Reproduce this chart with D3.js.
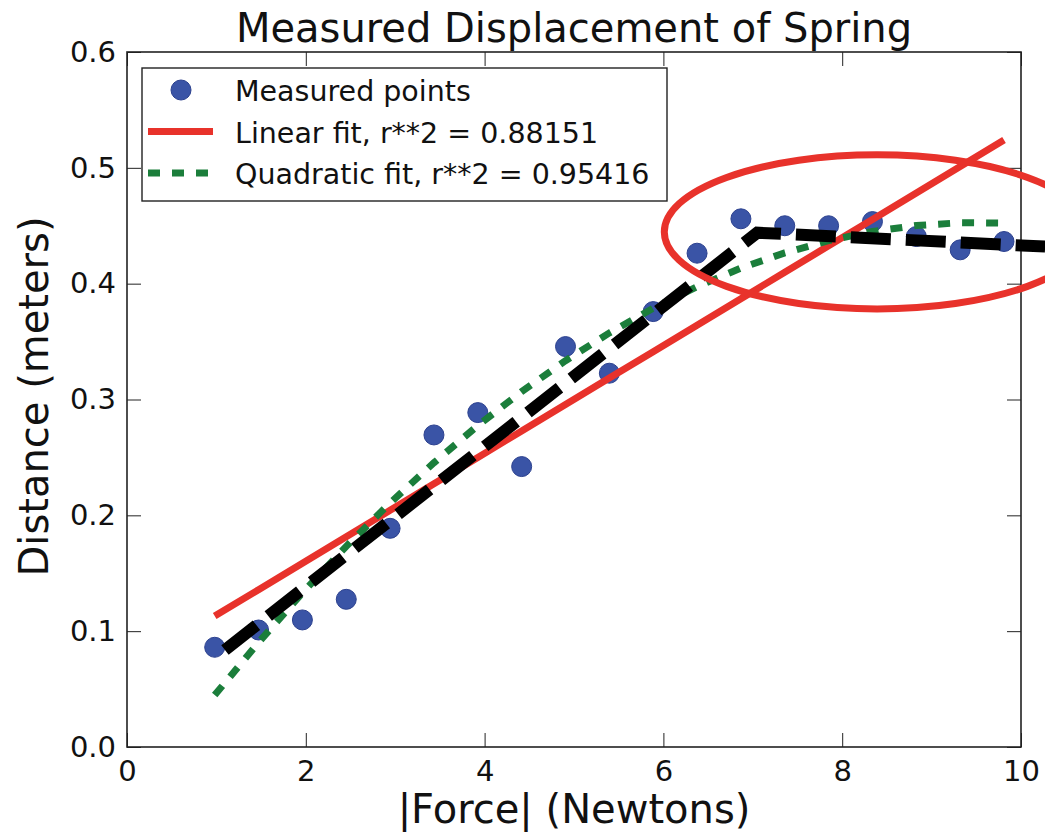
<!DOCTYPE html>
<html>
<head>
<meta charset="utf-8">
<title>Measured Displacement of Spring</title>
<script src="https://cdn.jsdelivr.net/npm/d3@7"></script>
<style>
    html, body { margin: 0; padding: 0; background: #fff; }
    svg { display: block; font-family: "DejaVu Sans", sans-serif; }
    svg text { font-family: "DejaVu Sans", sans-serif; }
</style>
</head>
<body>
<svg id="chart" width="1045" height="832"></svg>
<script>
/*jslint browser: true*/
/*global d3 */
'use strict';

var forces = [0.981, 1.4715, 1.962, 2.4525, 2.943, 3.4335, 3.924, 4.4145, 4.905, 5.3955,
    5.886, 6.3765, 6.867, 7.3575, 7.848, 8.3385, 8.829, 9.3195, 9.81];
var distances = [0.0861, 0.101, 0.1097, 0.1275, 0.1888, 0.2694, 0.2887, 0.2421, 0.3457, 0.3227,
    0.3759, 0.4263, 0.4560, 0.4500, 0.4500, 0.4536, 0.4407, 0.4292, 0.4364];
var linearFit = [0.113, 0.1358, 0.1587, 0.1815, 0.2043, 0.2272, 0.2500, 0.2728, 0.2957, 0.3185,
    0.3413, 0.3642, 0.3870, 0.4098, 0.4327, 0.4555, 0.4783, 0.5012, 0.5240];
var quadraticFit = [0.0448, 0.0903, 0.1331, 0.1732, 0.2107, 0.2454, 0.2775, 0.3068, 0.3335, 0.3575,
    0.3788, 0.3974, 0.4134, 0.4266, 0.4371, 0.4450, 0.4502, 0.4526, 0.4524];

var xTicks = [0, 2, 4, 6, 8, 10];
var yTicks = [0, 0.1, 0.2, 0.3, 0.4, 0.5, 0.6];
var legendLabels = ['Measured points', 'Linear fit, r**2 = 0.88151', 'Quadratic fit, r**2 = 0.95416'];

// hand drawn marks on top of the figure (data units)
var markerLine = [[1.096, 0.0838], [7.05, 0.444], [10.27, 0.432]];
var ringCenter = [8.39, 0.4447];
var ringRadius = [2.38, 0.0665];

var colors = { dot: '#3a54a6', dotEdge: '#2c418f', linear: '#e8322b', quad: '#1b7e3b', ink: '#222' };

function drawChart() {
    var svg = d3.select('#chart'),
        left = 127, right = 1021, top = 52, bottom = 747,
        x = d3.scaleLinear().domain([0, 10]).range([left, right]),
        y = d3.scaleLinear().domain([0, 0.6]).range([bottom, top]),
        tick = 14,
        line = d3.line().x(function (d) { return x(d[0]); }).y(function (d) { return y(d[1]); }),
        plot, gx, legend, rows;

    function pairs(vals) {
        return forces.map(function (f, i) { return [f, vals[i]]; });
    }

    // ticks, mirrored on every side and pointing inward
    gx = svg.append('g').attr('transform', 'translate(0,' + bottom + ')')
        .call(d3.axisBottom(x).tickValues(xTicks).tickSize(-tick).tickPadding(13).tickFormat(d3.format('d')));
    svg.append('g').attr('transform', 'translate(0,' + top + ')')
        .call(d3.axisTop(x).tickValues(xTicks).tickSize(-tick).tickFormat(''));
    svg.append('g').attr('transform', 'translate(' + left + ',0)')
        .call(d3.axisLeft(y).tickValues(yTicks).tickSize(-tick).tickPadding(11).tickFormat(d3.format('.1f')));
    svg.append('g').attr('transform', 'translate(' + right + ',0)')
        .call(d3.axisRight(y).tickValues(yTicks).tickSize(-tick).tickFormat(''));

    svg.selectAll('.domain').remove();
    svg.selectAll('.tick line').attr('stroke', colors.ink).attr('stroke-width', 1);
    svg.selectAll('.tick text').attr('fill', '#111').style('font-size', '29px');
    gx.selectAll('.tick text').attr('dy', '0.71em');

    plot = svg.append('g');

    plot.selectAll('circle.pt')
        .data(pairs(distances))
        .enter().append('circle')
        .attr('class', 'pt')
        .attr('cx', function (d) { return x(d[0]); })
        .attr('cy', function (d) { return y(d[1]); })
        .attr('r', 10)
        .attr('fill', colors.dot)
        .attr('stroke', colors.dotEdge)
        .attr('stroke-width', 1);

    plot.append('path').datum(pairs(linearFit))
        .attr('d', line).attr('fill', 'none')
        .attr('stroke', colors.linear).attr('stroke-width', 7);

    plot.append('path').datum(pairs(quadraticFit))
        .attr('d', line).attr('fill', 'none')
        .attr('stroke', colors.quad).attr('stroke-width', 7)
        .attr('stroke-dasharray', '12,12');

    // frame
    svg.append('rect')
        .attr('x', left).attr('y', top)
        .attr('width', right - left).attr('height', bottom - top)
        .attr('fill', 'none').attr('stroke', colors.ink).attr('stroke-width', 1.6);

    // legend
    legend = svg.append('g');
    legend.append('rect')
        .attr('x', 142).attr('y', 68).attr('width', 525).attr('height', 133)
        .attr('fill', '#fff').attr('stroke', colors.ink).attr('stroke-width', 1.4);
    rows = legend.selectAll('g.row').data(legendLabels).enter().append('g')
        .attr('class', 'row')
        .attr('transform', function (d, i) { return 'translate(0,' + (90 + i * 41.5) + ')'; });
    rows.append('text')
        .attr('x', 235).attr('y', 11)
        .style('font-size', '28.5px').attr('fill', '#111')
        .text(function (d) { return d; });
    rows.each(function (d, i) {
        var row = d3.select(this);
        if (i === 0) {
            row.append('circle').attr('cx', 181).attr('cy', 0).attr('r', 10)
                .attr('fill', colors.dot).attr('stroke', colors.dotEdge);
        } else {
            row.append('line').attr('x1', 148).attr('x2', 213).attr('y1', 0).attr('y2', 0)
                .attr('stroke', i === 1 ? colors.linear : colors.quad)
                .attr('stroke-width', 7)
                .attr('stroke-dasharray', i === 1 ? null : '12,12');
        }
    });

    // annotations: thick black dashed line and red ring
    svg.append('path').datum(markerLine)
        .attr('d', line).attr('fill', 'none')
        .attr('stroke', '#000').attr('stroke-width', 12)
        .attr('stroke-dasharray', '40,15');

    svg.append('ellipse')
        .attr('cx', x(ringCenter[0])).attr('cy', y(ringCenter[1]))
        .attr('rx', x(ringCenter[0] + ringRadius[0]) - x(ringCenter[0]))
        .attr('ry', y(ringCenter[1] - ringRadius[1]) - y(ringCenter[1]))
        .attr('fill', 'none').attr('stroke', colors.linear).attr('stroke-width', 7);

    // titles
    svg.append('text')
        .attr('x', (left + right) / 2).attr('y', 42)
        .attr('text-anchor', 'middle').style('font-size', '40px').attr('fill', '#111')
        .text('Measured Displacement of Spring');
    svg.append('text')
        .attr('x', (left + right) / 2).attr('y', 823)
        .attr('text-anchor', 'middle').style('font-size', '40px').attr('fill', '#111')
        .text('|Force| (Newtons)');
    svg.append('text')
        .attr('transform', 'translate(48,' + ((top + bottom) / 2 - 3) + ') rotate(-90)')
        .attr('text-anchor', 'middle').style('font-size', '40px').attr('fill', '#111')
        .text('Distance (meters)');
}

document.addEventListener('DOMContentLoaded', drawChart);
</script>
</body>
</html>
